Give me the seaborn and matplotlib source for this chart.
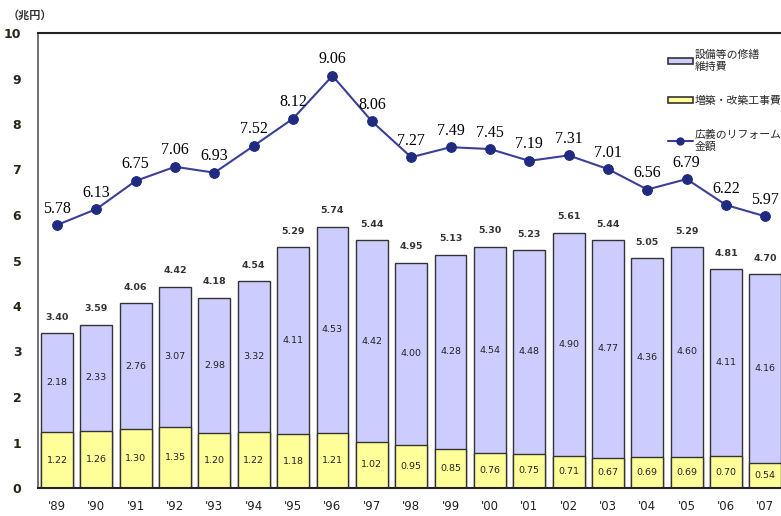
import matplotlib
matplotlib.use("Agg")
import matplotlib.pyplot as plt
import seaborn as sns
import pandas as pd
from matplotlib.patches import Patch
from matplotlib.lines import Line2D

years = ["'89", "'90", "'91", "'92", "'93", "'94", "'95", "'96", "'97", "'98",
         "'99", "'00", "'01", "'02", "'03", "'04", "'05", "'06", "'07"]
repair = [2.18, 2.33, 2.76, 3.07, 2.98, 3.32, 4.11, 4.53, 4.42, 4.00,
          4.28, 4.54, 4.48, 4.90, 4.77, 4.36, 4.60, 4.11, 4.16]
extension = [1.22, 1.26, 1.30, 1.35, 1.20, 1.22, 1.18, 1.21, 1.02, 0.95,
             0.85, 0.76, 0.75, 0.71, 0.67, 0.69, 0.69, 0.70, 0.54]
totals = [3.40, 3.59, 4.06, 4.42, 4.18, 4.54, 5.29, 5.74, 5.44, 4.95,
          5.13, 5.30, 5.23, 5.61, 5.44, 5.05, 5.29, 4.81, 4.70]
broad = [5.78, 6.13, 6.75, 7.06, 6.93, 7.52, 8.12, 9.06, 8.06, 7.27,
         7.49, 7.45, 7.19, 7.31, 7.01, 6.56, 6.79, 6.22, 5.97]

df = pd.DataFrame({"year": years, "repair": repair, "ext": extension,
                   "total": totals, "broad": broad})
df["pos"] = range(len(df))

sns.set_style("white")
plt.rcParams["font.family"] = ["Noto Sans CJK JP", "DejaVu Sans"]

c_rep = "#CCCCFF"
c_ext = "#FFFF99"
c_line = "#3A3F9A"
c_mark = "#1F2A80"

fig = plt.figure(figsize=(7.81, 5.16), dpi=100)
ax = fig.add_axes([38 / 781, 1 - 488 / 516, (785 - 38) / 781, (488 - 33) / 516])

# stacked bars: full height in lavender, yellow part drawn over it
sns.barplot(data=df, x="year", y="total", color=c_rep, width=0.81,
            edgecolor="#333333", linewidth=1.0, saturation=1, ax=ax)
sns.barplot(data=df, x="year", y="ext", color=c_ext, width=0.81,
            edgecolor="#333333", linewidth=1.0, saturation=1, ax=ax)
sns.lineplot(data=df, x="pos", y="broad", color=c_line, linewidth=1.5,
             marker="o", markersize=7, markerfacecolor=c_mark,
             markeredgecolor=c_mark, ax=ax)

for i, r in df.iterrows():
    ax.text(i, r["ext"] / 2, f"{r['ext']:.2f}", ha="center", va="center",
            fontsize=6.8, family="DejaVu Sans", color="#222222")
    ax.text(i, r["ext"] + r["repair"] / 2, f"{r['repair']:.2f}", ha="center",
            va="center", fontsize=6.8, family="DejaVu Sans", color="#222222")
    ax.text(i, r["total"] + 0.35, f"{r['total']:.2f}", ha="center",
            va="center", fontsize=6.8, family="DejaVu Sans", color="#333333",
            fontweight="semibold")
    ax.text(i, r["broad"] + 0.36, f"{r['broad']:.2f}", ha="center",
            va="center", fontsize=11.5, family="Liberation Serif", color="black")

ax.set_xlim(-0.483, 18.5)
ax.set_ylim(0, 10)
ax.set_yticks(range(0, 11))
ax.set_yticklabels([str(v) for v in range(0, 11)], fontsize=9,
                   fontweight="bold", color="#2a2418", family="DejaVu Sans")
ax.set_xticks(range(len(years)))
ax.set_xticklabels(years, fontsize=8.5, family="DejaVu Sans", color="#222222")
ax.set_xticks([i + 0.5 for i in range(len(years))], minor=True)
ax.tick_params(axis="x", which="major", length=0, pad=9)
ax.tick_params(axis="x", which="minor", direction="in", length=4, width=1)
ax.tick_params(axis="y", direction="in", length=4, width=1, pad=12,
               color="#555555")
ax.set_xlabel("")
ax.set_ylabel("")
for s in ["top", "bottom"]:
    ax.spines[s].set_color("#222222")
    ax.spines[s].set_linewidth(1.5)
ax.spines["left"].set_color("#666666")
ax.spines["left"].set_linewidth(1.3)
ax.spines["right"].set_visible(False)

fig.text(8 / 781, 1 - 15 / 516, "（兆円）", fontsize=8, fontweight="bold",
         va="center", ha="left", color="#333333")

handles = [
    Patch(facecolor=c_rep, edgecolor="#333333", linewidth=1.2),
    Patch(facecolor=c_ext, edgecolor="#333333", linewidth=1.2),
    Line2D([0], [0], color=c_line, linewidth=1.5, marker="o", markersize=5,
           markerfacecolor=c_mark, markeredgecolor=c_mark),
]
labels = ["設備等の修繕\n維持費", "増築・改築工事費", "広義のリフォーム\n金額"]
leg = fig.legend(handles, labels, loc="upper left",
                 bbox_to_anchor=(658 / 781, 1 - 40 / 516), frameon=False,
                 handlelength=2.3, handleheight=0.5,
                 handletextpad=0.2, labelspacing=2.2,
                 prop={"family": ["Noto Sans CJK JP"], "size": 7.8})

fig.savefig("out.png", dpi=100)
